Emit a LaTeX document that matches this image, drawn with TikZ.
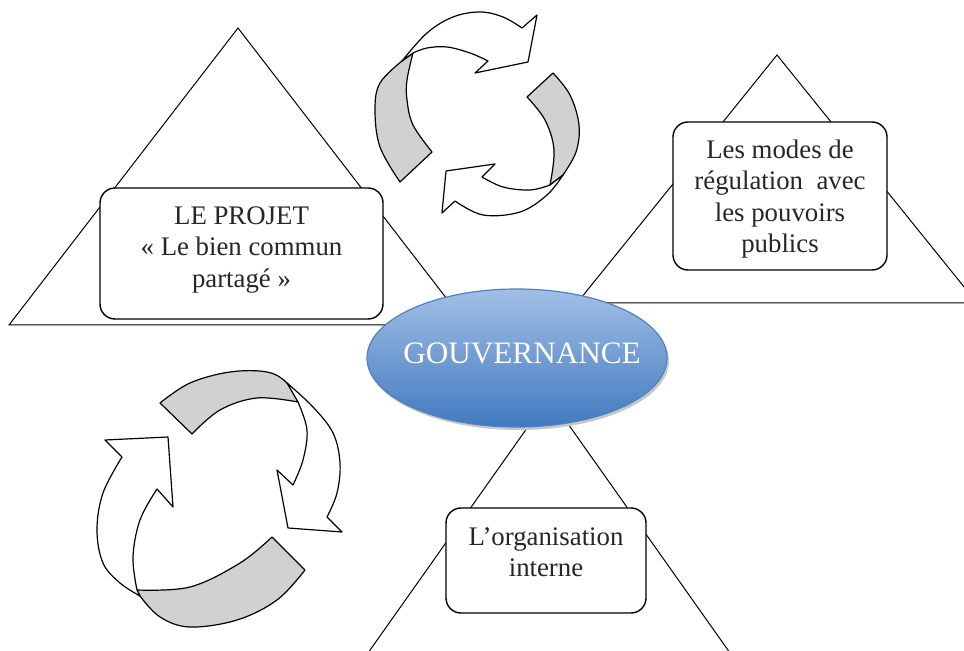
\documentclass[tikz,border=0pt]{standalone}
\usepackage{fontspec}
\setmainfont{Liberation Serif}
\definecolor{ribbongray}{RGB}{208,209,211}
\definecolor{elltop}{RGB}{161,191,230}
\definecolor{ellbot}{RGB}{66,121,191}
\definecolor{ellline}{RGB}{79,129,189}
\begin{document}
\begin{tikzpicture}[x=0.5pt,y=-0.5pt,
  tri/.style={draw=black, line width=0.5pt, line join=miter},
  box/.style={draw=black, fill=white, rounded corners=7.5pt, line width=0.7pt, inner sep=0pt},
  txt/.style={align=center, font=\fontsize{13.4}{15.6}\selectfont, inner sep=0pt, text=black!85},
  ribbon/.style={draw=black, fill=white, line width=0.6pt, line join=round},
  back/.style={ribbon, fill=ribbongray},
  sm/.style={smooth, tension=0.6}]
\useasboundingbox (0,0) rectangle (964,651);
\begin{scope}
\clip (0,0) rectangle (964,651);
% triangles
\draw[tri] (238,28) -- (9,325) -- (467,325) -- cycle;
\draw[tri] (777,55) -- (577,303) -- (977,303) -- cycle;
\draw[tri] (549,397) -- (264,800) -- (834,800) -- cycle;
\end{scope}
% boxes
\node[box, minimum width=141.5pt, minimum height=65.5pt] (projet) at (241.5,253.5) {};
\node[box, minimum width=107pt, minimum height=74pt] (regul) at (780,196) {};
\node[box, minimum width=100pt, minimum height=52.5pt] (orga) at (546,560.5) {};
\node[txt] (tprojet) at (241.5,250) {LE PROJET\\« Le bien commun\\partagé »};
\node[txt] (tregul) at (780,199) {Les modes de\\régulation\ \ avec\\les pouvoirs\\publics};
\node[txt] (torga) at (546,552) {L’organisation\\interne};
% ellipse
\fill[black!22] (519,361) ellipse [x radius=150, y radius=69];
\shade[top color=elltop, bottom color=ellbot, draw=ellline, line width=0.6pt] (517,358) ellipse [x radius=150, y radius=69];
\node[font=\fontsize{15.6}{18}\selectfont, text=white, inner sep=0pt] (gouv) at (522,353) {GOUVERNANCE};
% top circular arrows
\draw[back] plot[sm] coordinates {(400,182) (380,147) (375,110) (380,83) (402,61)} -- (413,53)
  -- plot[sm] coordinates {(413,53) (407,80) (407,100) (413,125) (432,152)} -- cycle;
\draw[ribbon] plot[sm] coordinates {(402,61) (427,33) (453,17) (480,12) (503,17) (522,28)}
  -- (537,15) -- (528,62) -- (475,73) -- (488,61)
  -- plot[sm] coordinates {(488,61) (470,53) (447,47) (427,48) (413,53)} -- cycle;
\draw[back] (527,97) -- (553,73)
  -- plot[sm] coordinates {(553,73) (570,95) (579,125) (576,152) (563,175)}
  -- (550,185)
  -- plot[sm] coordinates {(550,185) (554,150) (545,120) (527,97)} -- cycle;
\draw[ribbon] plot[sm] coordinates {(563,175) (547,195) (520,212) (483,215) (455,201)}
  -- (442,213) -- (446,171) -- (495,164) -- (482,177)
  -- plot[sm] coordinates {(482,177) (503,187) (530,190) (550,185)} -- cycle;
% bottom-left circular arrows
\draw[back] (160,403) -- (192,434)
  -- plot[sm] coordinates {(192,434) (220,410) (257,398) (298,402)}
  -- plot[sm] coordinates {(298,402) (287,383) (267,372) (230,372) (190,383) (160,403)} -- cycle;
\draw[ribbon] plot[sm] coordinates {(287,383) (313,407) (333,433) (340,463) (337,493) (327,517)}
  -- (342,532) -- (288,528) -- (277,470) -- (293,485)
  -- plot[sm] coordinates {(293,485) (303,460) (307,430) (298,402)} -- cycle;
\draw[back] (272,537) -- (305,570)
  -- plot[sm] coordinates {(305,570) (277,600) (237,620) (190,627) (160,617) (140,596)}
  -- (137,590)
  -- plot[sm] coordinates {(137,590) (190,587) (240,563) (272,537)} -- cycle;
\draw[ribbon] plot[sm] coordinates {(140,596) (120,583) (103,563) (97,530) (103,493) (122,457)}
  -- (105,440) -- (168,437) -- (173,507) -- (157,489)
  -- plot[sm] coordinates {(157,489) (140,520) (133,557) (137,590)} -- cycle;
\end{tikzpicture}
\end{document}
